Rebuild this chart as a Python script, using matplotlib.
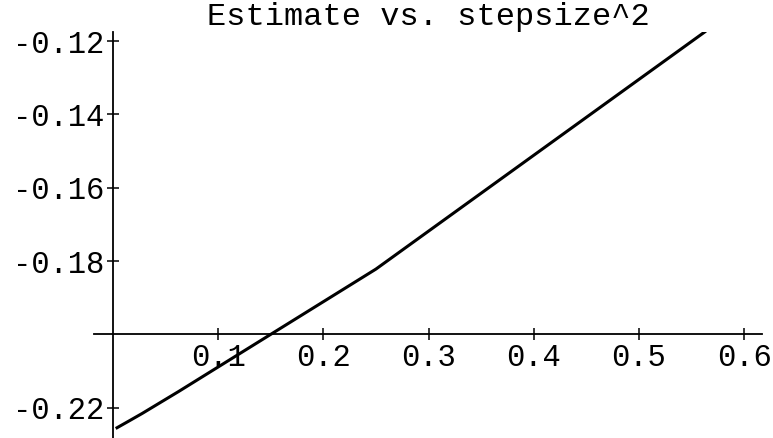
import matplotlib.pyplot as plt

# step size squared vs. estimate
stepsize_sq = [0.0039, 0.0156, 0.0278, 0.0625, 0.25, 0.5625]
estimate = [-0.2255, -0.2236, -0.2216, -0.2156, -0.1822, -0.1175]

x_ticks = [0.1, 0.2, 0.3, 0.4, 0.5, 0.6]
x_labels = ["0.1", "0.2", "0.3", "0.4", "0.5", "0.6"]
y_ticks = [-0.22, -0.18, -0.16, -0.14, -0.12]
y_labels = ["-0.22", "-0.18", "-0.16", "-0.14", "-0.12"]

plt.rcParams["font.family"] = ["Liberation Mono", "DejaVu Sans Mono"]
plt.rcParams["axes.unicode_minus"] = False

fig = plt.figure(figsize=(7.73, 4.38), dpi=100)
ax = fig.add_axes([94 / 773, 0.0, (762 - 94) / 773, 1 - 32 / 438])

ax.plot(stepsize_sq, estimate, color="black", linewidth=2.2, solid_joinstyle="round")

ax.set_xlim(-0.018, 0.617)
ax.set_ylim(-0.2283, -0.1175)

# Mathematica style axes crossing at (0, -0.2)
ax.spines["left"].set_position(("data", 0))
ax.spines["bottom"].set_position(("data", -0.20))
ax.spines["top"].set_visible(False)
ax.spines["right"].set_visible(False)
for s in ("left", "bottom"):
    ax.spines[s].set_linewidth(1.3)

ax.set_xticks(x_ticks, x_labels)
ax.set_yticks(y_ticks, y_labels)
ax.tick_params(axis="both", direction="inout", length=8, width=1.1,
               labelsize=22, pad=2)
ax.tick_params(axis="x", pad=2)

ax.set_title("Estimate vs. stepsize^2", fontsize=23, pad=2)
ax.patch.set_visible(False)

fig.savefig("out.png", dpi=100)
